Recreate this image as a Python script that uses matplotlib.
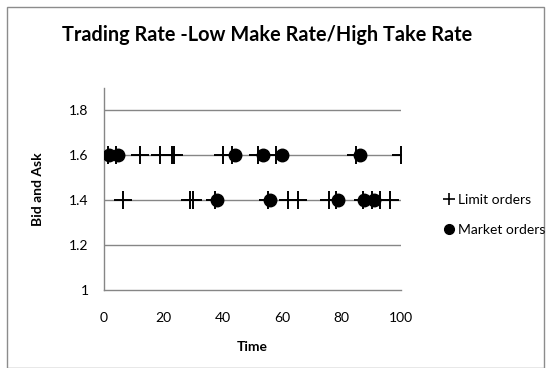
import matplotlib
matplotlib.use("Agg")
import matplotlib.pyplot as plt
from matplotlib.lines import Line2D
from matplotlib.patches import Rectangle

plt.rcParams['font.family'] = ['Lato', 'DejaVu Sans']

# Limit orders (time, price)
limit_time = [1.2, 4.1, 12, 19, 23, 23.7, 40, 43, 52, 58, 85, 100,
              6.4, 29, 29.8, 37.3, 55.2, 62, 65.2, 75.8, 78, 87.1, 90.2, 93, 96.4]
limit_price = [1.6] * 12 + [1.4] * 13

# Market orders (time, price)
market_time = [1.8, 4.8, 44, 53.7, 59.9, 86.1,
               38, 55.8, 78.9, 87.7, 91]
market_price = [1.6] * 6 + [1.4] * 5

y_ticks = [1, 1.2, 1.4, 1.6, 1.8]
x_ticks = [0, 20, 40, 60, 80, 100]

W, H = 546, 368
fig = plt.figure(figsize=(W / 100, H / 100), dpi=100)
ax = fig.add_axes([104 / W, 1 - 290 / H, (401 - 104) / W, (290 - 88) / H])

grid_c = '#868686'
for yv in y_ticks[1:]:
    ax.axhline(yv, color=grid_c, lw=1.0, zorder=1)

ax.plot(limit_time, limit_price, linestyle='none', marker='+', ms=13, mew=1.4,
        color='black', zorder=3, label='Limit orders')
ax.plot(market_time, market_price, linestyle='none', marker='o', ms=9,
        color='black', zorder=4, label='Market orders')

ax.set_xlim(0, 100)
ax.set_ylim(1, 1.9)
ax.set_xticks(x_ticks)
ax.set_xticklabels([str(v) for v in x_ticks])
ax.set_yticks(y_ticks)
ax.set_yticklabels(['1', '1.2', '1.4', '1.6', '1.8'])
ax.tick_params(length=0, labelsize=10, colors='black')
ax.tick_params(axis='y', pad=11)
ax.tick_params(axis='x', pad=16)

for s in ['top', 'right']:
    ax.spines[s].set_visible(False)
for s in ['left', 'bottom']:
    ax.spines[s].set_color(grid_c)
    ax.spines[s].set_linewidth(1.0)

ax.set_xlabel('Time', fontsize=10, fontweight='bold', labelpad=12)
ax.set_ylabel('Bid and Ask', fontsize=10, fontweight='bold', labelpad=18)

fig.text(267 / W, 1 - 35 / H, 'Trading Rate -Low Make Rate/High Take Rate',
         fontsize=14.3, fontweight='bold', ha='center', va='center')

handles = [Line2D([], [], linestyle='none', marker='+', ms=9, mew=1.2, color='black'),
           Line2D([], [], linestyle='none', marker='o', ms=7, color='black')]
fig.legend(handles, ['Limit orders', 'Market orders'], loc='center left',
           bbox_to_anchor=(436 / W, 1 - 215 / H), frameon=False, fontsize=10,
           handlelength=0.8, handletextpad=0.3, labelspacing=1.3, borderpad=0)

fig.patches.append(Rectangle((7 / W, 0), (544 - 7) / W, 1 - 7 / H, transform=fig.transFigure,
                             fill=False, edgecolor='#8c8c8c', lw=1.0))

fig.savefig('out.png', dpi=100)
